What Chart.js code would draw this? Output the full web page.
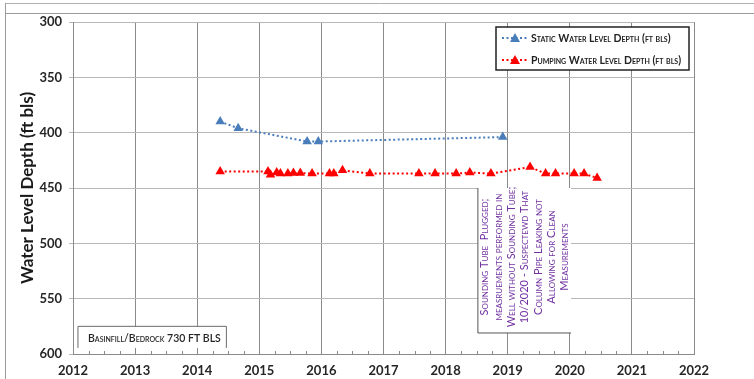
<!DOCTYPE html>
<html>
<head>
<meta charset="utf-8">
<script src="https://cdn.jsdelivr.net/npm/chart.js@4/dist/chart.umd.min.js"></script>
<style>
  body { margin: 0; background: #fff; }
  #wrap { width: 754px; height: 379px; }
</style>
</head>
<body>
<div id="wrap"><canvas id="chart" width="754" height="379"></canvas></div>
<script>
// static water level readings (decimal year, depth ft bls)
const staticDates = [2014.37, 2014.66, 2015.77, 2015.95, 2018.92]
const staticDepth = [390, 396, 408, 408, 404]

// pumping water level readings
const pumpDates = [2014.37, 2015.14, 2015.18, 2015.28, 2015.34, 2015.46, 2015.55, 2015.66,
  2015.85, 2016.13, 2016.2, 2016.34, 2016.78, 2017.57, 2017.83, 2018.17, 2018.39, 2018.73,
  2019.36, 2019.61, 2019.77, 2020.07, 2020.23, 2020.44]
const pumpDepth = [435, 435, 438, 436, 437, 437, 436.5, 436.5,
  437, 437, 437, 434, 437, 437, 437, 437, 436, 437,
  431, 437, 437, 437, 437, 441]

const seriesNames = ['Static Water Level Depth (ft bls)', 'Pumping Water Level Depth (ft bls)']
const yearTicks = [2012, 2013, 2014, 2015, 2016, 2017, 2018, 2019, 2020, 2021, 2022]
const depthTicks = [300, 350, 400, 450, 500, 550, 600]

const noteText = ['Basinfill/Bedrock 730 FT BLS']
const sideNote = [
  'Sounding Tube  Plugged;',
  'measruements performed in',
  'Well without Sounding Tube;',
  '10/2020 - Suspectewd That',
  'Column Pipe Leaking not',
  'Allowing for Clean',
  'Measurements'
]

const blue = '#4a7ebb'
const red = '#ff0000'

const toPoints = (xs, ys) => xs.map((x, i) => ({x: x, y: ys[i]}))

// frame, minor ticks, notes and legend
const decor = {
  id: 'decor',
  beforeDraw(chart) {
    const ctx = chart.ctx
    ctx.save()
    ctx.fillStyle = '#fff'
    ctx.fillRect(0, 0, chart.width, chart.height)
    ctx.lineWidth = 1
    ctx.strokeStyle = '#b0b0b0'
    ctx.beginPath()
    ctx.moveTo(5.5, 3.5); ctx.lineTo(754, 3.5)
    ctx.stroke()
    ctx.strokeStyle = '#9a9a9a'
    ctx.beginPath()
    ctx.moveTo(5.5, 13.5); ctx.lineTo(754, 13.5)
    ctx.moveTo(5.5, 3); ctx.lineTo(5.5, 379)
    ctx.stroke()
    ctx.restore()
  },
  afterDraw(chart) {
    const ctx = chart.ctx
    const xs = chart.scales.x, ys = chart.scales.y
    const area = chart.chartArea
    ctx.save()

    // minor quarter-year ticks on the x axis
    ctx.strokeStyle = '#8a8a8a'
    ctx.lineWidth = 1
    ctx.beginPath()
    for (let v = 2012; v < 2022; v += 0.25) {
      if (Number.isInteger(v)) continue
      const px = Math.round(xs.getPixelForValue(v)) + 0.5
      ctx.moveTo(px, area.bottom); ctx.lineTo(px, area.bottom - 3)
    }
    ctx.stroke()

    // basinfill note
    let l = xs.getPixelForValue(2012.08), r = xs.getPixelForValue(2014.47)
    let t = ys.getPixelForValue(575), b = ys.getPixelForValue(594.5)
    ctx.fillStyle = '#fff'
    ctx.fillRect(l, t, r - l, b - t)
    ctx.strokeStyle = '#6a6a6a'
    ctx.beginPath()
    ctx.moveTo(l, b); ctx.lineTo(l, t); ctx.lineTo(r, t); ctx.lineTo(r, b)
    ctx.stroke()
    ctx.fillStyle = '#262626'
    ctx.font = 'small-caps 600 10.5px Lato'
    ctx.textBaseline = 'middle'
    ctx.textAlign = 'left'
    ctx.fillText(noteText[0], l + 10, (t + b) / 2 + 1)

    // sounding tube note
    l = xs.getPixelForValue(2018.52); r = xs.getPixelForValue(2020.02)
    t = ys.getPixelForValue(450); b = ys.getPixelForValue(281 + 300)
    ctx.fillStyle = '#fff'
    ctx.fillRect(l, t, r - l, b - t)
    ctx.strokeStyle = '#555'
    ctx.beginPath()
    ctx.moveTo(l, t); ctx.lineTo(l, b); ctx.lineTo(r, b)
    ctx.stroke()
    ctx.fillStyle = '#7030a0'
    ctx.font = 'small-caps 11px Lato'
    ctx.textAlign = 'center'
    ctx.translate(l + 7, 257)
    ctx.rotate(-Math.PI / 2)
    sideNote.forEach((line, i) => ctx.fillText(line, 0, i * 13.3))
    ctx.setTransform(1, 0, 0, 1, 0, 0)

    // legend
    ctx.fillStyle = '#fff'
    ctx.fillRect(496, 27, 193, 43)
    ctx.strokeStyle = '#222'
    ctx.lineWidth = 1.5
    ctx.strokeRect(496, 27, 193, 43)
    const rows = [38, 60]
    const cols = [blue, red]
    rows.forEach((yy, i) => {
      ctx.strokeStyle = cols[i]
      ctx.lineWidth = 2
      ctx.setLineDash([2, 2.5])
      ctx.beginPath()
      ctx.moveTo(502, yy); ctx.lineTo(527, yy)
      ctx.stroke()
      ctx.setLineDash([])
      ctx.fillStyle = cols[i]
      ctx.beginPath()
      ctx.moveTo(515, yy - 5); ctx.lineTo(520, yy + 4); ctx.lineTo(510, yy + 4)
      ctx.closePath()
      ctx.fill()
      ctx.fillStyle = '#222'
      ctx.font = 'small-caps bold 10.5px Lato'
      ctx.textAlign = 'left'
      ctx.textBaseline = 'middle'
      ctx.fillText(seriesNames[i], 531, yy + 1)
    })
    ctx.restore()
  }
}

const chart = new Chart(document.getElementById('chart'), {
  type: 'scatter',
  data: {
    datasets: [
      {
        label: seriesNames[0],
        data: toPoints(staticDates, staticDepth),
        showLine: true,
        borderColor: blue,
        backgroundColor: blue,
        borderWidth: 2,
        borderDash: [2, 2.5],
        pointStyle: 'triangle',
        pointRadius: 5.5,
        pointBorderWidth: 0
      },
      {
        label: seriesNames[1],
        data: toPoints(pumpDates, pumpDepth),
        showLine: true,
        borderColor: red,
        backgroundColor: red,
        borderWidth: 2,
        borderDash: [2, 2.5],
        pointStyle: 'triangle',
        pointRadius: 5.5,
        pointBorderWidth: 0
      }
    ]
  },
  options: {
    responsive: false,
    animation: false,
    layout: {padding: {left: 0, top: 22, right: 60, bottom: 0}},
    plugins: {legend: {display: false}, tooltip: {enabled: false}},
    scales: {
      x: {
        type: 'linear',
        min: 2012,
        max: 2022,
        afterBuildTicks: s => { s.ticks = yearTicks.map(v => ({value: v})) },
        afterFit: s => { s.height = 25 },
        grid: {color: '#8a8a8a', drawTicks: false},
        border: {color: '#8a8a8a'},
        ticks: {
          padding: 9,
          color: '#262626',
          font: {family: 'Lato', size: 13, weight: 'bold'},
          callback: v => String(v)
        }
      },
      y: {
        reverse: true,
        min: 300,
        max: 600,
        afterBuildTicks: s => { s.ticks = depthTicks.map(v => ({value: v})) },
        afterFit: s => { s.width = 73 },
        grid: {color: '#b8b8b8', tickLength: 4},
        border: {color: '#8a8a8a'},
        ticks: {
          padding: 7,
          color: '#262626',
          font: {family: 'Lato', size: 13, weight: 'bold'}
        },
        title: {
          display: true,
          text: 'Water Level Depth (ft bls)',
          color: '#1a1a1a',
          font: {family: 'Lato', size: 17, weight: 'bold'},
          padding: {top: 17, bottom: 0}
        }
      }
    }
  },
  plugins: [decor]
})
</script>
</body>
</html>
